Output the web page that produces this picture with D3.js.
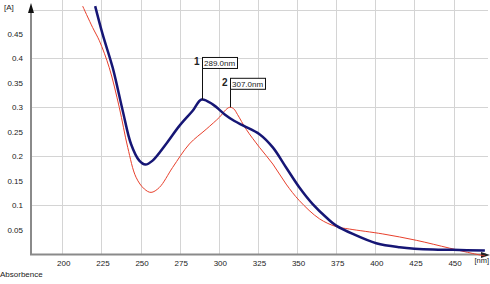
<!DOCTYPE html>
<html>
<head>
<meta charset="utf-8">
<script src="https://cdn.jsdelivr.net/npm/d3@7"></script>
<style>
  html, body { margin: 0; padding: 0; background: #fff; }
  svg { display: block; }
  text { font-family: "Liberation Sans Narrow", "Liberation Sans", Arial, sans-serif; fill: #222; }
</style>
</head>
<body>
<div id="chart"></div>
<script>
// Spectrum data (wavelength in nm, absorbance in A)
const blueNm = [221, 225.8, 232.2, 238.6, 243.9, 249.2, 253.1, 257.7, 266.3, 274.8, 283.3, 289, 296.1, 304, 310, 316, 326, 334.5, 343, 351.5, 360, 369.6, 375, 385.6, 400.6, 415.5, 436.8, 449.5, 470];
const blueA  = [0.507, 0.449, 0.381, 0.293, 0.225, 0.191, 0.183, 0.191, 0.225, 0.262, 0.293, 0.316, 0.306, 0.285, 0.272, 0.262, 0.245, 0.218, 0.177, 0.136, 0.102, 0.072, 0.058, 0.041, 0.022, 0.014, 0.009, 0.0085, 0.007];

const redNm = [213, 219.4, 223.7, 230, 236.4, 241.8, 247.1, 252.4, 256.7, 262, 270.5, 281.2, 291.9, 300.5, 304.5, 307, 309.5, 312, 317.5, 326, 334.5, 343, 351.5, 364.3, 375, 383.5, 404.8, 426.2, 447.4, 462.3, 470];
const redA  = [0.507, 0.463, 0.436, 0.381, 0.300, 0.218, 0.157, 0.133, 0.126, 0.136, 0.177, 0.225, 0.255, 0.28, 0.295, 0.300, 0.297, 0.285, 0.255, 0.218, 0.184, 0.143, 0.109, 0.072, 0.056, 0.051, 0.041, 0.028, 0.012, 0.001, -0.004];

const xTicks = [200, 225, 250, 275, 300, 325, 350, 375, 400, 425, 450];
const yTicks = [0.05, 0.1, 0.15, 0.2, 0.25, 0.3, 0.35, 0.4, 0.45];
const yGrid  = [0.1, 0.2, 0.3, 0.4, 0.5];

const peakIds    = ['1', '2'];
const peakNm     = [289, 307];
const peakA      = [0.316, 0.300];
const peakLabels = ['289.0nm', '307.0nm'];

const width = 490, height = 284;
const x = d3.scaleLinear().domain([180, 472]).range([31, 488]);
const y = d3.scaleLinear().domain([0, 0.5]).range([254, 9.5]);

const svg = d3.select('#chart').append('svg')
  .attr('width', width)
  .attr('height', height);

svg.append('defs').append('clipPath').attr('id', 'plot')
  .append('rect').attr('x', 31).attr('y', 5).attr('width', 459).attr('height', 253);

// Grid
const grid = svg.append('g').attr('stroke', '#d4d4d4').attr('stroke-width', 1);
grid.selectAll('.v').data(xTicks).join('line')
  .attr('x1', d => Math.round(x(d)) + 0.5).attr('x2', d => Math.round(x(d)) + 0.5)
  .attr('y1', 0).attr('y2', 254);
grid.selectAll('.h').data(yGrid).join('line')
  .attr('x1', 31).attr('x2', 488)
  .attr('y1', d => Math.round(y(d)) + 0.5).attr('y2', d => Math.round(y(d)) + 0.5);

// Axes (drawn by hand, gray with arrows)
svg.append('line').attr('x1', 31).attr('x2', 31).attr('y1', 6).attr('y2', 255)
  .attr('stroke', '#8a8a8a').attr('stroke-width', 2);
svg.append('line').attr('x1', 30).attr('x2', 486).attr('y1', 254.5).attr('y2', 254.5)
  .attr('stroke', '#8a8a8a').attr('stroke-width', 2);
svg.append('path').attr('d', 'M31,3 L28,13 L34,13 Z').attr('fill', '#111');
svg.append('path').attr('d', 'M490,255 L481,252 L481,258 Z').attr('fill', '#222');

// Tick labels
svg.append('g').selectAll('text').data(yTicks).join('text')
  .attr('x', 23).attr('y', d => y(d) + 3)
  .attr('text-anchor', 'end').attr('font-size', 8)
  .text(d => d);
svg.append('g').selectAll('text').data(xTicks).join('text')
  .attr('x', d => x(d) + 1.5).attr('y', 266)
  .attr('text-anchor', 'middle').attr('font-size', 8)
  .text(d => d);
svg.append('text').attr('x', 489).attr('y', 263).attr('text-anchor', 'end')
  .attr('font-size', 7.5).text('[nm]');
svg.append('text').attr('x', 4).attr('y', 10).attr('font-size', 8).text('[A]');
svg.append('text').attr('x', 0).attr('y', 277).attr('font-size', 8).text('Absorbence');

// Curves
const line = d3.line().curve(d3.curveCatmullRom.alpha(0.5));
const plot = svg.append('g').attr('clip-path', 'url(#plot)');
plot.append('path')
  .attr('d', line(redNm.map((n, i) => [x(n), y(redA[i])])))
  .attr('fill', 'none').attr('stroke', '#e8402c').attr('stroke-width', 1);
plot.append('path')
  .attr('d', line(blueNm.map((n, i) => [x(n), y(blueA[i])])))
  .attr('fill', 'none').attr('stroke', '#161675').attr('stroke-width', 2.5);

// Peak markers
const boxRise = [31, 18];
peakIds.forEach((id, i) => {
  const px = Math.round(x(peakNm[i])) + 0.5;
  const py = y(peakA[i]);
  const bottom = py - boxRise[i];
  const g = svg.append('g');
  g.append('line').attr('x1', px).attr('x2', px).attr('y1', py).attr('y2', bottom)
    .attr('stroke', '#111').attr('stroke-width', 1);
  const rect = g.append('rect').attr('x', px).attr('y', bottom - 11).attr('height', 11)
    .attr('fill', '#fff').attr('stroke', '#111').attr('stroke-width', 1);
  const t = g.append('text').attr('x', px + 1.5).attr('y', bottom - 2.5).attr('font-size', 8)
    .text(peakLabels[i]);
  rect.attr('width', Math.ceil(t.node().getComputedTextLength()) + 3);
  g.append('text').attr('x', px - 3).attr('y', bottom - 3).attr('text-anchor', 'end')
    .attr('font-size', 10).attr('font-weight', 'bold').text(id);
});
</script>
</body>
</html>
